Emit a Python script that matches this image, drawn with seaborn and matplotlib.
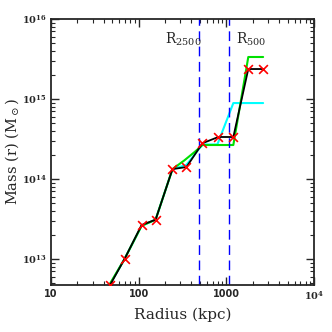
import numpy as np
import pandas as pd
import matplotlib
matplotlib.use('Agg')
import matplotlib.pyplot as plt
import matplotlib.ticker as ticker
import seaborn as sns

# data (kpc, Msun)
r_pts = [47, 69, 108, 156, 243, 351, 534, 811, 1202, 1780, 2630]
m_pts = [4.7e12, 1.0e13, 2.66e13, 3.1e13, 1.33e14, 1.41e14, 2.8e14, 3.35e14, 3.35e14, 2.37e15, 2.37e15]

r_black = [36, 47, 69, 108, 156, 243, 351, 534, 811, 1202, 1780, 2630]
m_black = [3.0e12, 4.7e12, 1.0e13, 2.66e13, 3.1e13, 1.33e14, 1.41e14, 2.8e14, 3.35e14, 3.35e14, 2.37e15, 2.37e15]

r_green = [36, 47, 69, 108, 156, 243, 330, 440, 534, 1202, 1780, 2630]
m_green = [3.0e12, 4.9e12, 1.0e13, 2.6e13, 3.1e13, 1.33e14, 1.7e14, 2.2e14, 2.66e14, 2.66e14, 3.35e15, 3.35e15]

r_cyan = [36, 47, 69, 108, 156, 243, 351, 534, 790, 1202, 2630]
m_cyan = [3.0e12, 4.8e12, 1.0e13, 2.6e13, 3.1e13, 1.33e14, 1.5e14, 2.7e14, 2.7e14, 8.9e14, 8.9e14]

r2500 = 493
r500 = 1082

sns.set_style('ticks')
plt.rcParams['font.family'] = ['DejaVu Serif']
plt.rcParams['mathtext.fontset'] = 'dejavuserif'
plt.rcParams['xtick.direction'] = 'in'
plt.rcParams['ytick.direction'] = 'in'
plt.rcParams['xtick.top'] = True
plt.rcParams['ytick.right'] = True

fig = plt.figure(figsize=(3.32, 3.32), dpi=100)
ax = fig.add_axes([51/332, 1-285/332, 263/332, 266/332])

sns.lineplot(x=r_cyan, y=m_cyan, color='cyan', lw=1.5, sort=False, ax=ax)
sns.lineplot(x=r_green, y=m_green, color='#00e000', lw=1.5, sort=False, ax=ax)
sns.lineplot(x=r_black, y=m_black, color='black', lw=1.3, sort=False, ax=ax)
sns.scatterplot(x=r_pts, y=m_pts, marker='x', color='red', s=40, linewidth=1.2, ax=ax, zorder=5)

for rv in [r2500, r500]:
    ax.axvline(rv, color='blue', lw=1.0, ls=(0, (7, 4)))

ax.set_xscale('log')
ax.set_yscale('log')
ax.set_xlim(10, 1e4)
ax.set_ylim(10**12.675, 1e16)

def fmt(v, pos):
    e = int(round(np.log10(v)))
    if e == 1:
        return '10'
    if e in (2, 3):
        return str(int(10**e))
    return r'$\mathbf{10^{%d}}$' % e

ax.xaxis.set_major_formatter(ticker.FuncFormatter(fmt))
ax.yaxis.set_major_formatter(ticker.FuncFormatter(fmt))
ax.tick_params(which='major', length=6, width=1, labelsize=7, pad=3)
ax.tick_params(which='minor', length=3, width=0.8)
for lab in ax.get_xticklabels() + ax.get_yticklabels():
    lab.set_fontweight('bold')
    lab.set_family('DejaVu Sans')
for s in ax.spines.values():
    s.set_linewidth(1.3)

ax.text(0.435, 0.925, r'R$_{2500}$', transform=ax.transAxes, fontsize=10, va='center', ha='left')
ax.text(0.705, 0.925, r'R$_{500}$', transform=ax.transAxes, fontsize=10, va='center', ha='left')

ax.set_xlabel('Radius (kpc)', fontsize=11)
ax.set_ylabel(r'Mass (r) (M$_\odot$)', fontsize=10.5)
ax.yaxis.set_label_coords(-0.115, 0.5)

fig.savefig('out.png', dpi=100)
